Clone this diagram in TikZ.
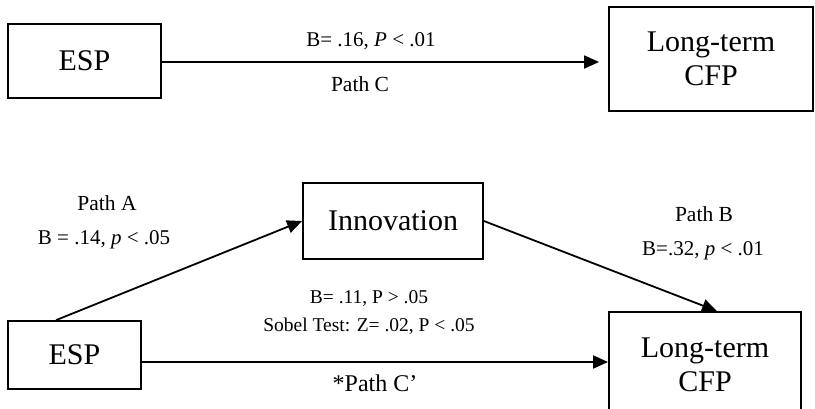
\documentclass[tikz,border=0pt]{standalone}
\usepackage{fontspec}
\setmainfont{Liberation Serif}
\usetikzlibrary{arrows.meta}
\begin{document}
\begin{tikzpicture}[x=1pt,y=-1pt,
  box/.style={draw, line width=1.8pt, inner sep=0pt, align=center, font=\fontsize{30}{34}\selectfont},
  arr/.style={line width=1.8pt, -{Triangle[length=15pt,width=13pt]}},
  lab/.style={anchor=base, inner sep=0pt, font=\fontsize{19.5}{23}\selectfont},
  slab/.style={anchor=base, inner sep=0pt, font=\fontsize{21}{25}\selectfont},
  plab/.style={anchor=base, inner sep=0pt, font=\fontsize{21.5}{25}\selectfont}]
\useasboundingbox (0,0) rectangle (815,408);
\clip (0,0) rectangle (815,408);
% top row
\node[box, minimum width=153pt, minimum height=74pt] (esp1) at (84.5,61) {ESP};
\node[box, minimum width=204pt, minimum height=104pt] (cfp1) at (711,59) {Long-term\\CFP};
\draw[arr, shorten >=9pt] ([yshift=-1pt]esp1.east) -- ([yshift=-1pt]esp1.east -| cfp1.west);
\node[slab] (l1) at (371,46) {B= .16, \textit{P} < .01};
\node[plab] (l2) at (360,91) {Path C};
% bottom row
\node[box, minimum width=180pt, minimum height=76pt] (inn) at (393,221) {Innovation};
\node[box, minimum width=133pt, minimum height=68pt] (esp2) at (74.5,355) {ESP};
\node[box, minimum width=192pt, minimum height=105pt] (cfp2) at (705,364.5) {Long-term\\CFP};
\draw[arr] ([xshift=49pt]esp2.north west) -- (inn.west);
\draw[arr] (inn.east) -- ([xshift=12pt]cfp2.north);
\draw[arr] ([yshift=-7pt]esp2.east) -- ([yshift=-7pt]esp2.east -| cfp2.west);
\node[plab] (pa) at (107,210) {Path A};
\node[slab] (pa2) at (104,244) {B = .14, \textit{p} < .05};
\node[plab] (pb) at (704,221) {Path B};
\node[slab] (pb2) at (703,255) {B=.32, \textit{p} < .01};
\node[lab] (pc1) at (369,303) {B= .11, P > .05};
\node[lab] (pc2) at (369,331) {Sobel Test: Z= .02, P < .05};
\node[anchor=base, inner sep=0pt, font=\fontsize{24}{28}\selectfont] (pc3) at (375,391) {*Path C’};
\end{tikzpicture}
\end{document}
